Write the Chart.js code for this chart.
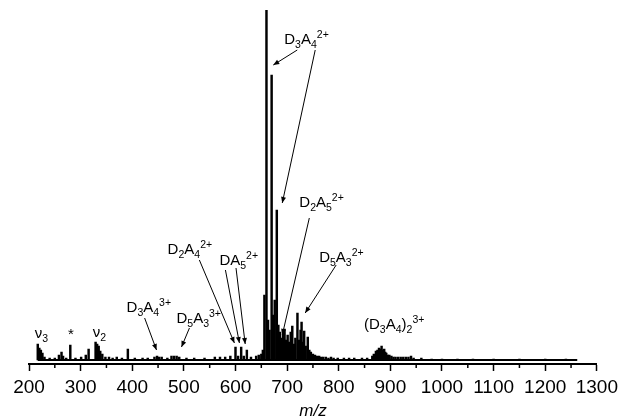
<!DOCTYPE html>
<html>
<head>
<meta charset="utf-8">
<script src="https://cdn.jsdelivr.net/npm/chart.js@4"></script>
<style>
  html, body { margin: 0; padding: 0; background: #fff; }
  #wrap { width: 621px; height: 418px; }
</style>
</head>
<body>
<div id="wrap"><canvas id="spectrum"></canvas></div>
<script>
// Peak positions (m/z) and heights (arbitrary units, main peak runs off scale)
const peakMz = [
  217, 220, 223, 226, 230, 240, 250, 258, 263, 266, 272, 280, 290, 301, 310, 315.5,
  329, 332, 335, 338, 342, 348, 355, 362, 370, 380, 391.5, 405, 420, 430,
  443, 448, 452, 457, 468, 476, 481, 486, 491, 505, 520, 540, 560, 570, 580, 590,
  600, 605, 611, 616, 622, 630, 640, 645, 650, 653, 656, 660, 663, 666, 670, 673,
  676, 680, 683, 686, 689, 692, 695, 698, 701, 704, 707, 710, 713, 716, 720, 723,
  726, 728, 731, 733, 736, 740, 743, 746, 750, 754, 758, 762, 766, 770, 775, 780,
  785, 790, 798, 810, 820, 830, 845, 855, 865, 868, 872, 875, 878, 881, 883, 886,
  888, 890, 892, 895, 898, 902, 906, 910, 915, 920, 925, 930, 935, 940, 945, 960,
  980, 1000, 1030, 1060, 1100, 1150, 1200, 1240
];
const peakHeight = [
  16, 12, 10, 7, 3, 2, 2, 5, 8, 4, 2, 15, 2, 3, 5, 11,
  18, 16, 14, 9, 6, 3, 3, 2, 3, 2, 11, 2, 2, 2,
  3, 4, 3, 3, 2, 4, 4, 4, 3, 2, 2, 2, 3, 3, 3, 4,
  13, 4, 13, 4, 10, 3, 4, 5, 6, 10, 65, 350, 40, 30, 285, 45,
  60, 150, 35, 28, 22, 30, 31, 20, 25, 18, 28, 34, 16, 22, 47, 20,
  30, 38, 18, 29, 14, 23, 10, 8, 6, 5, 4, 4, 3, 3, 3, 2,
  3, 2, 2, 2, 2, 2, 2, 2, 4, 6, 9, 10, 12, 11, 14, 10,
  11, 8, 7, 5, 5, 4, 3, 3, 3, 3, 3, 3, 3, 4, 2, 2,
  1, 1, 1, 1, 1, 1, 1, 1
];
const baselineMz = [217, 1262];
const xTicks = [200, 300, 400, 500, 600, 700, 800, 900, 1000, 1100, 1200, 1300];
const xMinorTicks = [250, 350, 450, 550, 650, 750, 850, 950, 1050, 1150, 1250];

// Peak labels: "_" = subscript, "^" = superscript. Positions in data units.
const annotations = [
  { parts: ['D', '_3', 'A', '_4', '^2+'], at: [694.5, 320],
    arrows: [[[719.6, 310], [673.2, 295]], [[754.4, 310], [690.6, 157]]] },
  { parts: ['D', '_2', 'A', '_5', '^2+'], at: [723.6, 157],
    arrows: [[[743, 142], [690.6, 25]]] },
  { parts: ['D', '_5', 'A', '_3', '^2+'], at: [762, 102],
    arrows: [[[795, 95], [735, 47]]] },
  { parts: ['D', '_2', 'A', '_4', '^2+'], at: [468.5, 110],
    arrows: [[[530, 100], [597.9, 17]]] },
  { parts: ['DA', '_5', '^2+'], at: [568.9, 99],
    arrows: [[[580.5, 90], [607.6, 17]], [[601, 92], [618.8, 16]]] },
  { parts: ['D', '_3', 'A', '_4', '^3+'], at: [389, 52],
    arrows: [[[424, 42], [447, 10]]] },
  { parts: ['D', '_5', 'A', '_3', '^3+'], at: [485.7, 41],
    arrows: [[[510.8, 32], [495.4, 13]]] },
  { parts: ['\u03bd', '_3'], at: [211, 26], arrows: [] },
  { parts: ['*'], at: [275.5, 25], arrows: [] },
  { parts: ['\u03bd', '_2'], at: [323.4, 27], arrows: [] },
  { parts: ['(D', '_3', 'A', '_4', ')', '_2', '^3+'], at: [849, 35], arrows: [] }
];

const FONT = '"Liberation Sans", Arial, sans-serif';

function drawParts(ctx, parts, x, y) {
  ctx.textBaseline = 'middle';
  ctx.textAlign = 'left';
  parts.forEach((p) => {
    let txt = p, dy = 0, size = 15;
    if (p[0] === '_') { txt = p.slice(1); dy = 5; size = 10.5; }
    else if (p[0] === '^') { txt = p.slice(1); dy = -5; size = 10.5; }
    ctx.font = size + 'px ' + FONT;
    ctx.fillText(txt, x, y + dy);
    x += ctx.measureText(txt).width;
  });
}

function drawArrow(ctx, x1, y1, x2, y2) {
  ctx.beginPath();
  ctx.moveTo(x1, y1);
  ctx.lineTo(x2, y2);
  ctx.stroke();
  const a = Math.atan2(y2 - y1, x2 - x1);
  const len = 6, w = 2.5;
  ctx.beginPath();
  ctx.moveTo(x2, y2);
  ctx.lineTo(x2 - len * Math.cos(a) + w * Math.sin(a), y2 - len * Math.sin(a) - w * Math.cos(a));
  ctx.lineTo(x2 - len * Math.cos(a) - w * Math.sin(a), y2 - len * Math.sin(a) + w * Math.cos(a));
  ctx.closePath();
  ctx.fill();
}

const labelPlugin = {
  id: 'peakLabels',
  afterDraw(chart) {
    const ctx = chart.ctx;
    const xs = chart.scales.x, ys = chart.scales.y;
    ctx.save();
    ctx.fillStyle = '#000';
    ctx.strokeStyle = '#000';

    // minor ticks
    const axisY = chart.chartArea.bottom;
    ctx.lineWidth = 1.5;
    xMinorTicks.forEach((v) => {
      const px = xs.getPixelForValue(v);
      ctx.beginPath();
      ctx.moveTo(px, axisY);
      ctx.lineTo(px, axisY + 4);
      ctx.stroke();
    });
    ctx.lineWidth = 1;

    annotations.forEach((a) => {
      drawParts(ctx, a.parts, xs.getPixelForValue(a.at[0]), ys.getPixelForValue(a.at[1]));
      a.arrows.forEach((arr) => {
        drawArrow(ctx,
          xs.getPixelForValue(arr[0][0]), ys.getPixelForValue(arr[0][1]),
          xs.getPixelForValue(arr[1][0]), ys.getPixelForValue(arr[1][1]));
      });
    });
    ctx.restore();
  }
};

const peaks = peakMz.map((m, i) => ({ x: m, y: peakHeight[i] }));

new Chart(document.getElementById('spectrum'), {
  type: 'bar',
  data: {
    datasets: [
      {
        type: 'bar',
        data: peaks,
        backgroundColor: '#000',
        barThickness: 1.8,
        grouped: false
      },
      {
        type: 'line',
        data: baselineMz.map((m) => ({ x: m, y: 0 })),
        borderColor: '#000',
        borderWidth: 2,
        pointRadius: 0
      }
    ]
  },
  options: {
    responsive: true,
    maintainAspectRatio: false,
    animation: false,
    layout: { padding: { left: 29, right: 23, top: 10, bottom: 0 } },
    plugins: { legend: { display: false }, tooltip: { enabled: false } },
    scales: {
      x: {
        type: 'linear',
        min: 200,
        max: 1300,
        offset: false,
        afterBuildTicks: (axis) => { axis.ticks = xTicks.map((v) => ({ value: v })); },
        ticks: {
          autoSkip: false,
          maxRotation: 0,
          padding: 3,
          color: '#000',
          font: { family: FONT, size: 19, lineHeight: '28px' },
          callback: (v) => String(v)
        },
        grid: {
          drawOnChartArea: false,
          offset: false,
          tickLength: 7,
          tickWidth: 1.5,
          tickColor: '#000'
        },
        border: { color: '#000', width: 2 },
        title: {
          display: true,
          text: 'm/z',
          color: '#000',
          padding: { top: 0, bottom: 0 },
          font: { family: FONT, size: 17, style: 'italic', lineHeight: '13px' }
        }
      },
      y: {
        display: false,
        min: -4,
        max: 350
      }
    }
  },
  plugins: [labelPlugin]
});
</script>
</body>
</html>
